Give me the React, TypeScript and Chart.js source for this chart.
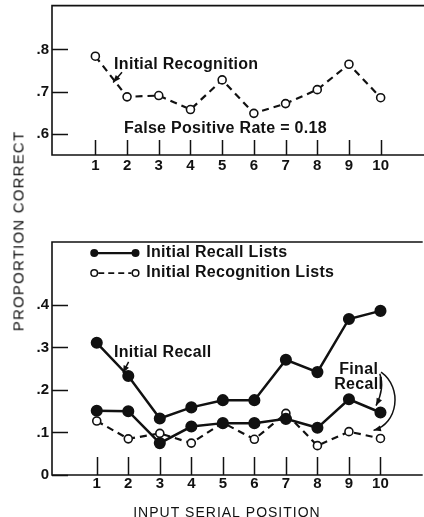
import React, { useEffect, useRef } from 'react';
import { Chart, registerables } from 'chart.js';
Chart.register(...registerables);

const positions = [1, 2, 3, 4, 5, 6, 7, 8, 9, 10];
const xTickValues = [1, 2, 3, 4, 5, 6, 7, 8, 9, 10];
const initialRecognition = [0.784, 0.688, 0.691, 0.658, 0.728, 0.649, 0.672, 0.705, 0.765, 0.686];
const initialRecall = [0.311, 0.233, 0.133, 0.159, 0.176, 0.176, 0.271, 0.242, 0.367, 0.386];
const finalRecallRecallLists = [0.151, 0.150, 0.075, 0.114, 0.122, 0.122, 0.132, 0.111, 0.178, 0.147];
const finalRecallRecognitionLists = [0.127, 0.085, 0.098, 0.075, 0.123, 0.084, 0.145, 0.069, 0.102, 0.086];
const topYTicks = [0.6, 0.7, 0.8];
const topYLabels = ['.6', '.7', '.8'];
const bottomYTicks = [0, 0.1, 0.2, 0.3, 0.4];
const bottomYLabels = ['0', '.1', '.2', '.3', '.4'];

const INK = '#111';
const FONT = '"Liberation Sans", Arial, sans-serif';
const ANNOT_FONT = `bold 16px ${FONT}`;

const toXY = (vals: number[]) => vals.map((v, i) => ({ x: positions[i], y: v }));

function arrowHead(ctx: CanvasRenderingContext2D, fx: number, fy: number, tx: number, ty: number, size = 7) {
  const a = Math.atan2(ty - fy, tx - fx);
  ctx.beginPath();
  ctx.moveTo(tx, ty);
  ctx.lineTo(tx - size * Math.cos(a - 0.38), ty - size * Math.sin(a - 0.38));
  ctx.lineTo(tx - size * Math.cos(a + 0.38), ty - size * Math.sin(a + 0.38));
  ctx.closePath();
  ctx.fill();
}

const framePlugin = {
  id: 'frame',
  afterDraw(chart: any, _a: any, opts: any) {
    const { ctx, chartArea } = chart;
    const { left, top, right, bottom } = chartArea;
    const xs = chart.scales.x;
    const ys = chart.scales.y;
    ctx.save();
    ctx.strokeStyle = INK;
    ctx.lineWidth = 1.6;
    ctx.beginPath();
    ctx.moveTo(right, top);
    ctx.lineTo(left, top);
    ctx.lineTo(left, bottom);
    ctx.lineTo(right, bottom);
    ctx.stroke();
    ctx.lineWidth = 1.5;
    ctx.beginPath();
    xs.ticks.forEach((t: any) => {
      const p = Math.round(xs.getPixelForValue(t.value)) + 0.5;
      ctx.moveTo(p, bottom);
      ctx.lineTo(p, bottom - opts.xLen);
    });
    ys.ticks.forEach((t: any) => {
      const p = Math.round(ys.getPixelForValue(t.value)) + 0.5;
      ctx.moveTo(left, p);
      ctx.lineTo(left + opts.yLen, p);
    });
    ctx.stroke();
    ctx.restore();
  },
};

function baseOptions(xMin: number, xMax: number, yMin: number, yMax: number, yTicks: number[], yLabels: string[], xH: number, padTop: number, xPad: number, xLen: number, yLen: number) {
  return {
    responsive: false,
    animation: false,
    devicePixelRatio: 1,
    layout: { padding: { top: padTop, left: 0, right: 0, bottom: 0 } },
    plugins: { legend: { display: false }, tooltip: { enabled: false }, frame: { xLen, yLen } },
    scales: {
      x: {
        type: 'linear',
        min: xMin,
        max: xMax,
        grid: { display: false, drawTicks: false },
        border: { display: false },
        afterBuildTicks: (s: any) => { s.ticks = xTickValues.map((value) => ({ value })); },
        afterFit: (s: any) => { s.height = xH; s.paddingLeft = 0; s.paddingRight = 0; },
        ticks: {
          padding: xPad,
          color: INK,
          maxRotation: 0,
          autoSkip: false,
          font: { family: FONT, size: 15, weight: 'bold' },
          callback: (v: any) => String(v),
        },
      },
      y: {
        type: 'linear',
        min: yMin,
        max: yMax,
        grid: { display: false, drawTicks: false },
        border: { display: false },
        afterBuildTicks: (s: any) => { s.ticks = yTicks.map((value) => ({ value })); },
        afterFit: (s: any) => { s.width = 52; s.paddingTop = 0; s.paddingBottom = 0; },
        ticks: {
          padding: 3,
          color: INK,
          font: { family: FONT, size: 15, weight: 'bold' },
          callback: (v: any) => {
            const i = yTicks.findIndex((t) => Math.abs(t - v) < 1e-6);
            return i >= 0 ? yLabels[i] : '';
          },
        },
      },
    },
  } as any;
}

const topAnnot = {
  id: 'topAnnot',
  afterDraw(chart: any) {
    const { ctx } = chart;
    const xs = chart.scales.x, ys = chart.scales.y;
    const P = (x: number, y: number) => [xs.getPixelForValue(x), ys.getPixelForValue(y)];
    ctx.save();
    ctx.fillStyle = INK;
    ctx.strokeStyle = INK;
    ctx.font = ANNOT_FONT;
    (ctx as any).letterSpacing = '0.3px';
    ctx.textBaseline = 'middle';
    ctx.textAlign = 'left';
    let [x, y] = P(1.59, 0.765);
    ctx.fillText('Initial Recognition', x, y);
    [x, y] = P(1.90, 0.612);
    ctx.fillText('False Positive Rate = 0.18', x, y);
    const [ax, ay] = P(1.84, 0.746);
    const [bx, by] = P(1.56, 0.722);
    ctx.lineWidth = 1.5;
    ctx.beginPath();
    ctx.moveTo(ax, ay);
    ctx.lineTo(bx, by);
    ctx.stroke();
    arrowHead(ctx, ax, ay, bx, by, 8);
    ctx.restore();
  },
};

const bottomAnnot = {
  id: 'bottomAnnot',
  afterDraw(chart: any) {
    const { ctx } = chart;
    const xs = chart.scales.x, ys = chart.scales.y;
    const P = (x: number, y: number) => [xs.getPixelForValue(x), ys.getPixelForValue(y)];
    ctx.save();
    ctx.fillStyle = INK;
    ctx.strokeStyle = INK;
    ctx.font = ANNOT_FONT;
    (ctx as any).letterSpacing = '0.3px';
    ctx.textBaseline = 'middle';
    ctx.textAlign = 'left';
    // legend
    const [l1x, l1y] = P(0.92, 0.522);
    const [l2x] = P(2.23, 0.522);
    const [, r2y] = P(0.92, 0.475);
    const [tx] = P(2.57, 0.5);
    ctx.lineWidth = 2.2;
    ctx.beginPath();
    ctx.moveTo(l1x, l1y);
    ctx.lineTo(l2x, l1y);
    ctx.stroke();
    [l1x, l2x].forEach((px) => { ctx.beginPath(); ctx.arc(px, l1y, 4, 0, Math.PI * 2); ctx.fill(); });
    ctx.setLineDash([6, 4]);
    ctx.lineWidth = 1.8;
    ctx.beginPath();
    ctx.moveTo(l1x + 4, r2y);
    ctx.lineTo(l2x - 4, r2y);
    ctx.stroke();
    ctx.setLineDash([]);
    ctx.lineWidth = 1.5;
    ctx.fillStyle = '#fff';
    [l1x, l2x].forEach((px) => { ctx.beginPath(); ctx.arc(px, r2y, 3.3, 0, Math.PI * 2); ctx.fill(); ctx.stroke(); });
    ctx.fillStyle = INK;
    ctx.fillText('Initial Recall Lists', tx, l1y);
    ctx.fillText('Initial Recognition Lists', tx, r2y);
    // Initial Recall label
    let [x, y] = P(1.545, 0.287);
    ctx.fillText('Initial Recall', x, y);
    const [ax, ay] = P(2.01, 0.266);
    const [bx, by] = P(1.83, 0.240);
    ctx.beginPath();
    ctx.moveTo(ax, ay);
    ctx.lineTo(bx, by);
    ctx.stroke();
    arrowHead(ctx, ax, ay, bx, by, 8);
    // Final Recall
    ctx.textAlign = 'center';
    [x, y] = P(9.31, 0.249);
    ctx.fillText('Final', x, y);
    [x, y] = P(9.31, 0.212);
    ctx.fillText('Recall', x, y);
    const [sx, sy] = P(9.98, 0.238);
    const [c1x, c1y] = P(10.14, 0.205);
    const [h1x, h1y] = P(9.86, 0.163);
    ctx.beginPath();
    ctx.moveTo(sx, sy);
    ctx.quadraticCurveTo(c1x, c1y, h1x, h1y);
    ctx.stroke();
    arrowHead(ctx, c1x, c1y, h1x, h1y, 8);
    const [s2x, s2y] = P(10.02, 0.242);
    const [d1x, d1y] = P(10.72, 0.205);
    const [d2x, d2y] = P(10.55, 0.12);
    const [h2x, h2y] = P(9.78, 0.105);
    ctx.beginPath();
    ctx.moveTo(s2x, s2y);
    ctx.bezierCurveTo(d1x, d1y, d2x, d2y, h2x, h2y);
    ctx.stroke();
    arrowHead(ctx, d2x, d2y, h2x, h2y, 8);
    // x title
    ctx.font = `14px ${FONT}`;
    const [ttx] = P(5.13, 0);
    (ctx as any).letterSpacing = '1px';
    ctx.fillText('INPUT SERIAL POSITION', ttx, chart.height - 4);
    ctx.restore();
  },
};

export default function App() {
  const topRef = useRef<HTMLCanvasElement>(null);
  const botRef = useRef<HTMLCanvasElement>(null);

  useEffect(() => {
    const top = new Chart(topRef.current!, {
      type: 'line',
      data: {
        datasets: [
          {
            data: toXY(initialRecognition),
            borderColor: INK,
            borderWidth: 2.2,
            borderDash: [7, 5],
            pointRadius: 4,
            pointBorderWidth: 1.6,
            pointBackgroundColor: '#fff',
            pointBorderColor: INK,
            tension: 0,
          },
        ],
      },
      options: baseOptions(-0.368, 11.38, 0.5506, 0.9035, topYTicks, topYLabels, 25, 5, 2, 15, 16),
      plugins: [framePlugin, topAnnot],
    });
    const bot = new Chart(botRef.current!, {
      type: 'line',
      data: {
        datasets: [
          {
            data: toXY(initialRecall),
            borderColor: INK,
            borderWidth: 2.5,
            pointRadius: 4.8,
            pointBackgroundColor: INK,
            pointBorderColor: INK,
            tension: 0,
          },
          {
            data: toXY(finalRecallRecallLists),
            borderColor: INK,
            borderWidth: 2.5,
            pointRadius: 4.8,
            pointBackgroundColor: INK,
            pointBorderColor: INK,
            tension: 0,
          },
          {
            data: toXY(finalRecallRecognitionLists),
            borderColor: INK,
            borderWidth: 2.2,
            borderDash: [7, 5],
            pointRadius: 4,
            pointBorderWidth: 1.6,
            pointBackgroundColor: '#fff',
            pointBorderColor: INK,
            tension: 0,
          },
        ],
      },
      options: baseOptions(-0.42, 11.34, 0, 0.548, bottomYTicks, bottomYLabels, 42, 12, 0, 18, 16),
      plugins: [framePlugin, bottomAnnot],
    });
    return () => {
      top.destroy();
      bot.destroy();
    };
  }, []);

  return (
    <div style={{ position: 'absolute', left: 0, top: 0, width: 424, height: 517, overflow: 'hidden', background: '#fff' }}>
      <canvas ref={topRef} width={430} height={180} style={{ position: 'absolute', left: 0, top: 0 }} />
      <canvas ref={botRef} width={430} height={287} style={{ position: 'absolute', left: 0, top: 230 }} />
      <div
        style={{
          position: 'absolute',
          left: 18,
          top: 231,
          transform: 'translate(-50%, -50%) rotate(-90deg)',
          whiteSpace: 'nowrap',
          fontFamily: FONT,
          fontSize: 15,
          letterSpacing: '1.2px',
          color: INK,
          lineHeight: 1,
        }}
      >
        PROPORTION CORRECT
      </div>
    </div>
  );
}
